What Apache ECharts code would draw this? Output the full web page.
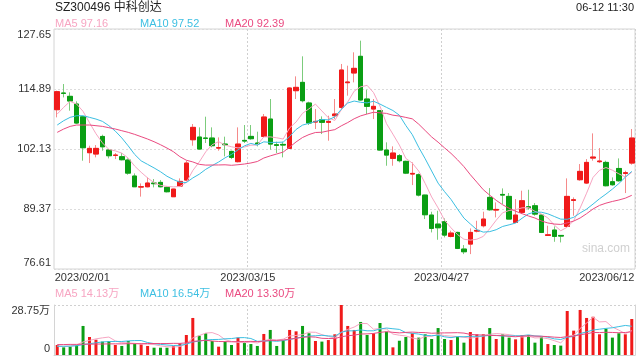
<!DOCTYPE html>
<html><head><meta charset="utf-8">
<script src="https://cdn.jsdelivr.net/npm/echarts@6/dist/echarts.min.js"></script>
<style>html,body{margin:0;padding:0;background:#fff}#c{width:640px;height:360px}</style>
</head><body><div id="c"></div>
<script>
const dates = ['2023/02/01','2023/02/02','2023/02/03','2023/02/06','2023/02/07','2023/02/08','2023/02/09','2023/02/10','2023/02/13','2023/02/14',
'2023/02/15','2023/02/16','2023/02/17','2023/02/20','2023/02/21','2023/02/22','2023/02/23','2023/02/24','2023/02/27','2023/02/28',
'2023/03/01','2023/03/02','2023/03/03','2023/03/06','2023/03/07','2023/03/08','2023/03/09','2023/03/10','2023/03/13','2023/03/14',
'2023/03/15','2023/03/16','2023/03/17','2023/03/20','2023/03/21','2023/03/22','2023/03/23','2023/03/24','2023/03/27','2023/03/28',
'2023/03/29','2023/03/30','2023/03/31','2023/04/03','2023/04/04','2023/04/06','2023/04/07','2023/04/10','2023/04/11','2023/04/12',
'2023/04/13','2023/04/14','2023/04/17','2023/04/18','2023/04/19','2023/04/20','2023/04/21','2023/04/24','2023/04/25','2023/04/26',
'2023/04/27','2023/04/28','2023/05/04','2023/05/05','2023/05/08','2023/05/09','2023/05/10','2023/05/11','2023/05/12','2023/05/15',
'2023/05/16','2023/05/17','2023/05/18','2023/05/19','2023/05/22','2023/05/23','2023/05/24','2023/05/25','2023/05/26','2023/05/29',
'2023/05/30','2023/05/31','2023/06/01','2023/06/02','2023/06/05','2023/06/06','2023/06/07','2023/06/08','2023/06/09','2023/06/12'];

const opens = [110.49,114.03,113.33,111.70,108.98,101.34,101.06,104.80,101.91,100.77,
100.49,99.78,96.38,94.04,94.10,94.89,95.03,93.97,91.98,94.25,
95.52,104.10,104.67,104.46,104.46,102.33,103.18,101.62,99.43,103.96,
104.81,103.40,104.81,108.50,103.04,103.11,102.26,114.53,116.30,111.91,
107.86,108.36,107.80,109.21,110.98,116.23,118.29,121.84,112.76,110.63,
110.28,101.91,100.13,100.70,99.50,96.80,96.66,92.33,88.08,86.16,
86.66,83.54,84.39,80.85,81.91,84.67,85.81,91.84,89.14,92.47,
92.05,86.52,88.65,89.85,90.06,88.08,83.75,84.89,83.75,85.67,
91.20,95.60,94.89,100.20,99.43,99.28,95.17,97.99,96.94,99.14];

const closes = [114.32,113.96,112.33,107.65,102.40,102.26,102.26,102.60,100.70,100.84,
99.85,97.00,94.10,94.10,94.89,94.75,94.10,93.04,93.61,95.24,
99.14,106.73,102.12,104.39,102.83,102.40,103.04,100.35,103.18,103.82,
104.32,103.26,108.93,103.18,102.90,102.97,115.10,115.24,112.40,107.65,
108.00,107.80,108.00,109.57,118.93,116.38,119.28,112.55,111.20,111.20,
101.91,100.84,101.27,99.64,97.00,96.94,92.33,88.15,85.24,85.38,
83.82,84.25,80.99,80.28,84.39,84.82,87.23,89.21,89.28,92.33,
87.23,88.08,91.13,89.64,88.29,84.39,83.89,83.54,83.61,92.05,
91.34,97.37,99.28,100.42,99.57,94.32,94.53,95.38,97.09,104.46];

const lows = [108.86,113.10,110.28,107.44,99.64,99.14,100.35,101.77,100.13,99.99,
99.71,96.66,94.10,92.00,93.97,93.97,93.97,92.90,91.98,94.10,
95.38,102.83,101.98,103.40,102.48,101.77,100.56,99.99,99.28,103.40,
104.10,102.69,104.74,101.98,101.27,100.35,102.12,112.76,112.05,107.23,
106.38,105.31,103.89,108.50,110.63,113.47,116.30,112.40,109.57,108.50,
101.77,98.57,98.57,99.28,96.80,94.46,92.05,87.23,84.39,82.83,
83.33,83.33,80.85,79.78,79.78,84.39,85.45,89.00,87.58,90.42,
87.23,86.38,88.29,89.21,87.94,84.25,83.68,82.40,82.26,85.45,
87.94,95.38,94.68,99.64,99.14,94.18,94.32,95.17,92.76,98.79];

const highs = [114.53,115.95,114.18,112.26,109.07,102.83,102.97,105.17,102.12,101.27,
101.27,100.13,96.94,94.81,96.09,95.74,95.52,94.18,93.68,95.88,
99.64,107.44,106.73,109.00,106.73,104.60,104.75,101.77,106.73,107.23,
107.23,105.81,109.57,112.76,103.68,103.68,115.24,117.58,121.84,112.19,
110.63,109.07,109.21,112.76,120.21,119.85,122.69,125.17,114.74,112.76,
110.28,103.54,102.69,101.06,99.64,99.28,96.94,92.40,88.79,88.99,
87.37,84.75,84.53,81.70,85.24,86.87,88.79,93.82,90.77,93.75,
92.76,91.48,93.26,93.47,90.63,88.29,85.81,85.67,83.82,95.88,
91.84,98.93,99.99,105.45,102.33,99.64,96.09,100.13,97.51,106.38];

// volume in 万 (10k shares)
const volumes = [5.75,4.4,4.8,5.75,16.7,10.35,8.8,7.7,8.05,5.75,
5.2,8.05,6.5,6.1,5.2,4.2,4.2,4.2,5.2,6.7,
11.5,21.3,11.1,12.5,8.05,4.8,7.7,5.75,10.0,7.3,
6.3,5.2,12.1,14.4,5.2,8.6,14.4,13.6,16.7,12.5,
8.05,7.7,8.6,11.9,28.75,16.7,14.4,19.0,11.5,12.5,
18.4,13.4,4.4,8.2,10.35,12.5,10.0,11.9,9.2,15.5,
9.2,8.6,10.5,7.1,13.2,11.9,11.9,15.5,9.2,11.9,
10.0,9.0,11.5,11.5,7.1,10.5,6.3,5.75,5.4,25.3,
14.0,25.9,21.3,22.0,11.9,15.1,10.0,12.5,11.9,20.7];

// moving-average values at the start of the window (history before 02/01)
const ma5Head = [109.57,110.99,112.26,111.70];
const ma10Head = [107.23,108.15,108.86,109.21,109.21,108.86,108.50,108.01,107.09];
const ma20Head = [105.67,106.38,106.94,107.23,107.23,107.23,107.09,106.94,106.66,106.38,106.02,105.67,105.24,104.75,104.25,103.68,103.04,102.33,101.55];
const volMa5Head = [5.2,5.0,5.1,5.8];
const volMa10Head = [5.0,5.0,5.1,5.3,6.0,6.5,7.0,7.5,7.7];
const volMa20Head = [6.0,6.0,6.1,6.1,6.2,6.2,6.3,6.3,6.4,6.4,6.4,6.5,6.5,6.5,6.6,6.6,6.6,6.6,6.7];

const priceMin = 76.61, priceMax = 127.65, priceStep = 12.76;
const volMax = 28.75;
const shownDates = ['2023/02/01','2023/03/15','2023/04/27','2023/06/12'];
const gridDates = ['2023/03/15','2023/04/27'];
const titleText = 'SZ300496 中科创达';
const timeText = '06-12 11:30';
const priceLegend = ['MA5 97.16','MA10 97.52','MA20 92.39'];
const volLegend = ['MA5 14.13万','MA10 16.54万','MA20 13.30万'];

const C_UP = '#f01a1a', C_DOWN = '#0a9e14', W_UP = '#f58a8a', W_DOWN = '#7ccc7c';
const C_MA5 = '#f7a5c2', C_MA10 = '#3cbfe2', C_MA20 = '#ea4a80';
const FF = "'Liberation Sans', Arial, 'Noto Sans CJK SC', sans-serif";

function movingAvg(vals, n, head) {
  return vals.map((v, i) => {
    if (i < n - 1) return head[i];
    let s = 0; for (let k = i - n + 1; k <= i; k++) s += vals[k];
    return +(s / n).toFixed(3);
  });
}

const wickData = opens.map((o, i) => [o, closes[i], lows[i], highs[i]]);
const bodyData = opens.map((o, i) => [o, closes[i], Math.min(o, closes[i]), Math.max(o, closes[i])]);
const volData = volumes.map((v, i) => ({ value: v, itemStyle: { color: closes[i] >= opens[i] ? C_UP : C_DOWN } }));

const lab = { fontSize: 11, color: '#333', fontFamily: FF };
const chart = echarts.init(document.getElementById('c'), null, { renderer: 'canvas' });

function txt(text, x, y, color, size, align) {
  return { type: 'text', x: x, y: y, silent: true,
    style: { text: text, fill: color, font: size + 'px ' + FF, align: align || 'left', verticalAlign: 'middle', textAlign: align || 'left', textVerticalAlign: 'middle' } };
}

chart.setOption({
  animation: false,
  backgroundColor: '#fff',
  grid: [
    { left: 54, right: 5, top: 29, height: 240, show: true, borderColor: '#d4d4d4', borderWidth: 1 },
    { left: 54, right: 5, top: 305, height: 50 }
  ],
  xAxis: [
    { type: 'category', gridIndex: 0, data: dates, boundaryGap: true,
      axisLine: { show: false }, axisTick: { show: false },
      axisLabel: { margin: 3, interval: (i, v) => shownDates.indexOf(v) >= 0,
        formatter: (v) => v === dates[0] ? '{l|' + v + '}' : (v === dates[dates.length - 1] ? '{r|' + v + '}' : '{m|' + v + '}'),
        rich: { l: Object.assign({ padding: [0, 0, 0, 50] }, lab), r: Object.assign({ padding: [0, 50, 0, 0] }, lab), m: Object.assign({ padding: [0, 6, 0, 0] }, lab) } },
      splitLine: { show: true, interval: (i, v) => gridDates.indexOf(v) >= 0, lineStyle: { color: '#cfcfcf', type: [2, 2] } } },
    { type: 'category', gridIndex: 1, data: dates, boundaryGap: true,
      axisLine: { show: true, lineStyle: { color: '#d4d4d4' } }, axisTick: { show: false }, axisLabel: { show: false },
      splitLine: { show: true, interval: (i, v) => gridDates.indexOf(v) >= 0, lineStyle: { color: '#cfcfcf', type: [2, 2] } } }
  ],
  yAxis: [
    { type: 'value', gridIndex: 0, min: priceMin, max: priceMax, interval: priceStep,
      axisLine: { show: false }, axisTick: { show: false },
      splitLine: { show: true, lineStyle: { color: '#dcdcdc', type: [2, 2] } },
      axisLabel: { margin: 3,
        formatter: (v, idx) => { const s = v.toFixed(2); return v <= priceMin ? '{b|' + s + '}' : (v >= priceMax ? '{t|' + s + '}' : '{n|' + s + '}'); },
        rich: { t: Object.assign({ padding: [12, 0, 0, 0] }, lab), b: Object.assign({ padding: [0, 0, 12, 0] }, lab), n: lab } } },
    { type: 'value', gridIndex: 1, min: 0, max: volMax, interval: volMax,
      axisLine: { show: true, lineStyle: { color: '#d4d4d4' } }, axisTick: { show: false },
      splitLine: { show: true, lineStyle: { color: '#d0d0d0', type: [2, 2] } },
      axisLabel: { margin: 4,
        formatter: (v) => v <= 0 ? '{b|0}' : '{t|' + v.toFixed(2) + '万}',
        rich: { t: Object.assign({ padding: [12, 0, 0, 0] }, lab), b: Object.assign({ padding: [0, 0, 12, 0] }, lab) } } },
    { type: 'value', gridIndex: 1, position: 'right', min: 0, max: volMax,
      axisLine: { show: true, lineStyle: { color: '#d4d4d4' } }, axisTick: { show: false },
      axisLabel: { show: false }, splitLine: { show: false } }
  ],
  series: [
    { type: 'candlestick', name: 'wick', xAxisIndex: 0, yAxisIndex: 0, data: wickData, barWidth: 5,
      itemStyle: { color: W_UP, color0: W_DOWN, borderColor: W_UP, borderColor0: W_DOWN, borderWidth: 1 } },
    { type: 'candlestick', name: 'body', xAxisIndex: 0, yAxisIndex: 0, data: bodyData, barWidth: 5,
      itemStyle: { color: C_UP, color0: C_DOWN, borderColor: C_UP, borderColor0: C_DOWN, borderWidth: 1 } },
    { type: 'line', name: 'MA5', xAxisIndex: 0, yAxisIndex: 0, data: movingAvg(closes, 5, ma5Head), symbol: 'none', lineStyle: { width: 1, color: C_MA5 }, z: 5 },
    { type: 'line', name: 'MA10', xAxisIndex: 0, yAxisIndex: 0, data: movingAvg(closes, 10, ma10Head), symbol: 'none', lineStyle: { width: 1, color: C_MA10 }, z: 5 },
    { type: 'line', name: 'MA20', xAxisIndex: 0, yAxisIndex: 0, data: movingAvg(closes, 20, ma20Head), symbol: 'none', lineStyle: { width: 1, color: C_MA20 }, z: 5 },
    { type: 'bar', name: 'vol', xAxisIndex: 1, yAxisIndex: 1, data: volData, barWidth: 3 },
    { type: 'line', name: 'VMA5', xAxisIndex: 1, yAxisIndex: 1, data: movingAvg(volumes, 5, volMa5Head), symbol: 'none', lineStyle: { width: 1, color: C_MA5 }, z: 5 },
    { type: 'line', name: 'VMA10', xAxisIndex: 1, yAxisIndex: 1, data: movingAvg(volumes, 10, volMa10Head), symbol: 'none', lineStyle: { width: 1, color: C_MA10 }, z: 5 },
    { type: 'line', name: 'VMA20', xAxisIndex: 1, yAxisIndex: 1, data: movingAvg(volumes, 20, volMa20Head), symbol: 'none', lineStyle: { width: 1, color: C_MA20 }, z: 5 }
  ],
  graphic: [
    txt(titleText, 55, 8, '#222', 12),
    txt(timeText, 634, 8, '#222', 11, 'right'),
    txt(priceLegend[0], 55, 24, C_MA5, 11),
    txt(priceLegend[1], 140, 24, C_MA10, 11),
    txt(priceLegend[2], 225, 24, C_MA20, 11),
    txt(volLegend[0], 55, 294, C_MA5, 11),
    txt(volLegend[1], 140, 294, C_MA10, 11),
    txt(volLegend[2], 225, 294, C_MA20, 11),
    txt('sina.com', 582, 249, '#d0d0d0', 12)
  ]
});
</script></body></html>
